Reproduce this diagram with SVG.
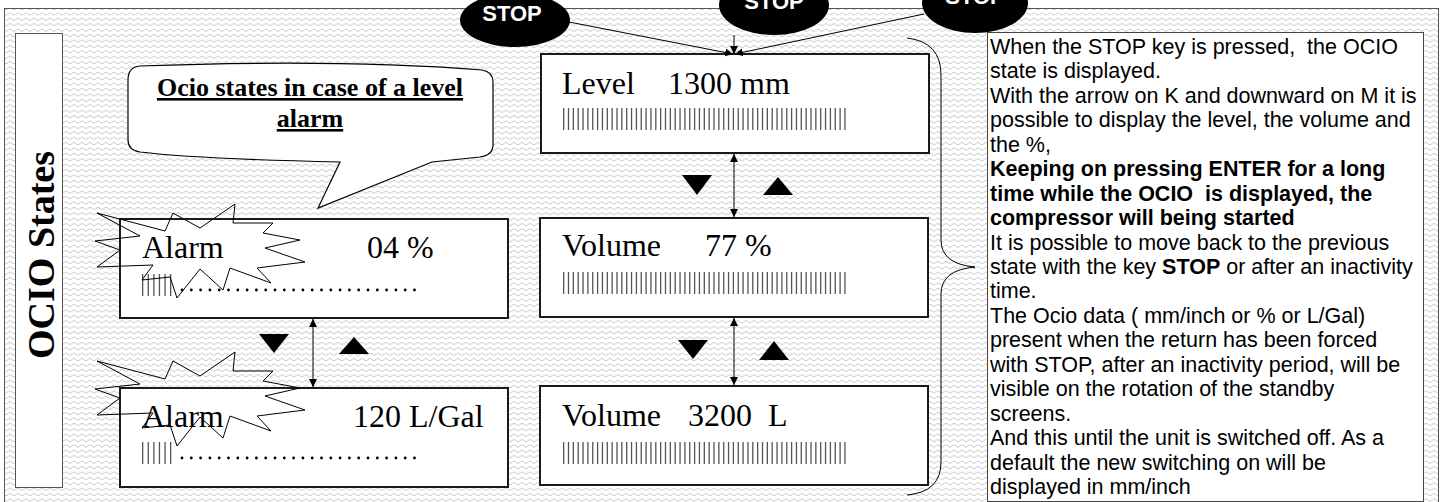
<svg xmlns="http://www.w3.org/2000/svg" width="1442" height="502" viewBox="0 0 1442 502">
<defs>
<pattern id="wave" width="8" height="5.4" patternUnits="userSpaceOnUse">
<path d="M0 3.2 Q2 0.8 4 3.2 T8 3.2" fill="none" stroke="#b8b8b8" stroke-width="0.8"/>
</pattern>
<marker id="ah" viewBox="0 0 10 10" refX="10" refY="5" markerWidth="8" markerHeight="8" markerUnits="userSpaceOnUse" orient="auto-start-reverse">
<path d="M0 0 L10 5 L0 10 Z" fill="#000"/>
</marker>
<polygon id="star" points="97,213 140,236 95,241 120,250 97,267 153,265 142,280 170,277 177,298 200,269 223,290 230,268 271,283 257,268 305,262 265,248 300,240 263,233 273,223 233,223 235,204 200,228 173,213 165,231"/>
</defs>
<style>
.box{fill:#fff;stroke:#1a1a1a;stroke-width:2}
.lcd{font-family:"Liberation Serif","Times New Roman",serif;font-size:32px;fill:#000}
.bar{stroke:#555;stroke-width:22;stroke-dasharray:1.3 3.55;fill:none}
.dots{stroke:#000;stroke-width:2.8;stroke-linecap:round;stroke-dasharray:0 9.3;fill:none}
.conn{stroke:#000;stroke-width:1;fill:none}
.tri{fill:#000}
.stopE{fill:#000}
.stopT{font-family:"Liberation Sans",Arial,sans-serif;font-weight:bold;font-size:22px;fill:#fff;text-anchor:middle}
.note{font-family:"Liberation Sans",Arial,sans-serif;font-size:21.5px;fill:#000}
.star{fill:none;stroke:#000;stroke-width:1}
</style>
<rect x="0" y="0" width="1442" height="502" fill="#fff"/>
<rect id="frame" x="4.5" y="8.5" width="1434" height="500" fill="url(#wave)" stroke="#555" stroke-width="1"/>

<g id="title">
<rect x="15.5" y="33.5" width="47" height="454" fill="#fff" stroke="#555" stroke-width="1"/>
<text transform="translate(54,255) rotate(-90)" text-anchor="middle" font-family="'Liberation Serif','Times New Roman',serif" font-weight="bold" font-size="38">OCIO States</text>
</g>

<g id="callout">
<path d="M140,66 C250,62 380,62 482,70 Q493,72 493,82 L493,145 Q493,155 480,157 L432,162 L318,208 L340,162 C250,160 180,157 140,152 Q128,150 128,140 L128,80 Q128,67 140,66 Z" fill="#fff" stroke="#000" stroke-width="1.2"/>
<text x="310" y="96" text-anchor="middle" font-family="'Liberation Serif','Times New Roman',serif" font-weight="bold" font-size="26" text-decoration="underline">Ocio states in case of a level</text>
<text x="310" y="127" text-anchor="middle" font-family="'Liberation Serif','Times New Roman',serif" font-weight="bold" font-size="26" text-decoration="underline">alarm</text>
</g>

<g id="alarm-pct">
<rect class="box" x="120" y="219" width="388" height="99"/>
<text class="lcd" x="142" y="258">Alarm</text>
<text class="lcd" x="367" y="258">04 %</text>
<line class="bar" x1="142" y1="285" x2="172" y2="285" style="stroke-dasharray:1.3 4.3"/>
<line class="dots" x1="182" y1="290" x2="422" y2="290"/>
<use href="#star" class="star"/>
</g>

<g id="alarm-vol">
<rect class="box" x="120" y="388" width="388" height="99"/>
<text class="lcd" x="142" y="427">Alarm</text>
<text class="lcd" x="353" y="427">120 L/Gal</text>
<line class="bar" x1="142" y1="453" x2="172" y2="453" style="stroke-dasharray:1.3 4.3"/>
<line class="dots" x1="182" y1="458" x2="422" y2="458"/>
<use href="#star" class="star" transform="translate(0,148)"/>
</g>

<g id="level">
<rect class="box" x="541" y="54" width="388" height="99"/>
<text class="lcd" x="562" y="94">Level</text>
<text class="lcd" x="668" y="94">1300 mm</text>
<line class="bar" x1="563" y1="119" x2="848" y2="119"/>
</g>

<g id="volume-pct">
<rect class="box" x="540" y="218" width="388" height="99"/>
<text class="lcd" x="562" y="256">Volume</text>
<text class="lcd" x="705" y="256">77 %</text>
<line class="bar" x1="563" y1="283" x2="848" y2="283"/>
</g>

<g id="volume-l">
<rect class="box" x="540" y="386" width="388" height="99"/>
<text class="lcd" x="562" y="426">Volume</text>
<text class="lcd" x="688" y="426" xml:space="preserve">3200  L</text>
<line class="bar" x1="563" y1="453" x2="848" y2="453"/>
</g>

<g id="stop1">
<ellipse class="stopE" cx="515" cy="20" rx="55" ry="27"/>
<text class="stopT" x="512" y="21">STOP</text>
</g>
<g id="stop2">
<ellipse class="stopE" cx="774" cy="5" rx="55" ry="30"/>
<text class="stopT" x="774" y="9">STOP</text>
</g>
<g id="stop3">
<ellipse class="stopE" cx="975" cy="3" rx="53" ry="30"/>
<text class="stopT" x="975" y="4">STOP</text>
</g>

<g id="connectors">
<line class="conn" x1="569" y1="22" x2="733" y2="54" marker-end="url(#ah)"/>
<line class="conn" x1="734" y1="35" x2="734" y2="54" marker-end="url(#ah)"/>
<line class="conn" x1="924" y1="14" x2="735" y2="54" marker-end="url(#ah)"/>
<line class="conn" x1="734" y1="154" x2="734" y2="217" marker-start="url(#ah)" marker-end="url(#ah)"/>
<line class="conn" x1="734" y1="318" x2="734" y2="385" marker-start="url(#ah)" marker-end="url(#ah)"/>
<line class="conn" x1="313" y1="319" x2="313" y2="387" marker-start="url(#ah)" marker-end="url(#ah)"/>
<path class="conn" d="M907,38 Q941,42 941,75 L941,240 Q941,264 975,267 Q941,270 941,294 L941,462 Q941,492 907,495" stroke-width="1.2"/>
</g>

<g id="keys">
<polygon class="tri" points="682,175 712,175 697,195"/>
<polygon class="tri" points="763,195 793,195 778,177"/>
<polygon class="tri" points="678,340 708,340 693,359"/>
<polygon class="tri" points="759,360 789,360 774,341"/>
<polygon class="tri" points="259,334 289,334 274,353"/>
<polygon class="tri" points="339,354 369,354 354,337"/>
</g>

<g id="notes">
<rect x="987.5" y="32.5" width="436" height="469" fill="#fff" stroke="#444" stroke-width="1"/>
<text class="note">
<tspan x="990" y="54" xml:space="preserve">When the STOP key is pressed,  the OCIO</tspan>
<tspan x="990" y="78.4">state is displayed.</tspan>
<tspan x="990" y="102.9">With the arrow on K and downward on M it is</tspan>
<tspan x="990" y="127.3">possible to display the level, the volume and</tspan>
<tspan x="990" y="151.8">the %,</tspan>
<tspan x="990" y="176.2" font-weight="bold">Keeping on pressing ENTER for a long</tspan>
<tspan x="990" y="200.6" font-weight="bold" xml:space="preserve">time while the OCIO  is displayed, the</tspan>
<tspan x="990" y="225.1" font-weight="bold">compressor will being started</tspan>
<tspan x="990" y="249.5">It is possible to move back to the previous</tspan>
<tspan x="990" y="274">state with the key <tspan font-weight="bold">STOP</tspan> or after an inactivity</tspan>
<tspan x="990" y="298.4">time.</tspan>
<tspan x="990" y="322.8">The Ocio data ( mm/inch or % or L/Gal)</tspan>
<tspan x="990" y="347.3">present when the return has been forced</tspan>
<tspan x="990" y="371.7">with STOP, after an inactivity period, will be</tspan>
<tspan x="990" y="396.2">visible on the rotation of the standby</tspan>
<tspan x="990" y="420.6">screens.</tspan>
<tspan x="990" y="445">And this until the unit is switched off. As a</tspan>
<tspan x="990" y="469.5">default the new switching on will be</tspan>
<tspan x="990" y="493.9">displayed in mm/inch</tspan>
</text>
</g>
</svg>
